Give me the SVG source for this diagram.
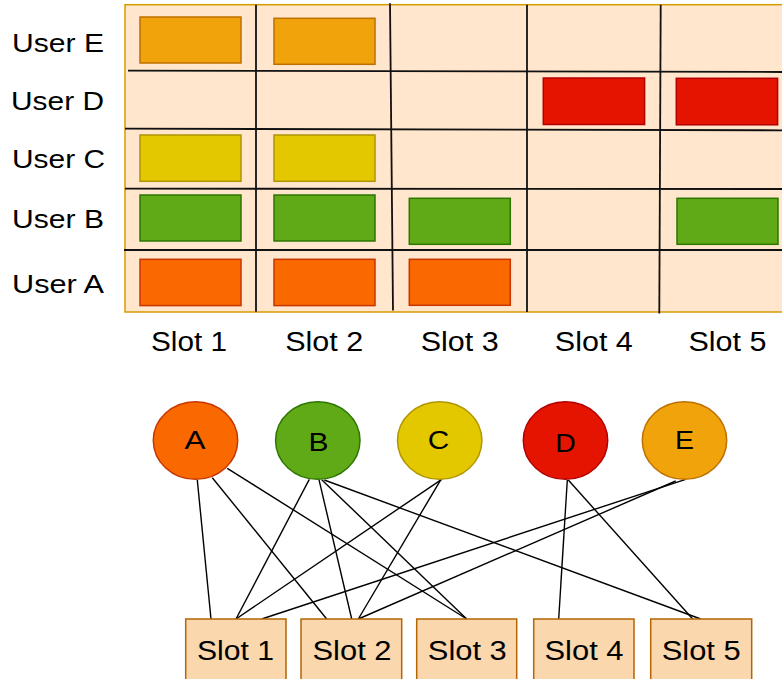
<svg xmlns="http://www.w3.org/2000/svg" width="782" height="679" viewBox="0 0 782 679">
<style>
text{font-family:"Liberation Sans",Arial,Helvetica,sans-serif;fill:#000}
.lbl{font-size:26px}
.sl{font-size:27px;text-anchor:middle}
.let{font-size:26px;text-anchor:middle}
.grid{stroke:#111;stroke-width:1.8;fill:none}
.cE{fill:#F0A30A;stroke:#BD7000;stroke-width:1.5}
.cD{fill:#E51400;stroke:#B20000;stroke-width:1.5}
.cC{fill:#E3C800;stroke:#B09500;stroke-width:1.5}
.cB{fill:#60A917;stroke:#2D7600;stroke-width:1.5}
.cA{fill:#FA6800;stroke:#C73500;stroke-width:1.5}
.box{fill:#FAD7AC;stroke:#B46504;stroke-width:1.5}
.edge{stroke:#000;stroke-width:1.4;fill:none}
</style>
<g id="schedule-grid">
<rect x="125" y="4.7" width="700" height="307.3" fill="#FFE6CC" stroke="#D79B00" stroke-width="1.5"/>
<rect class="cE" x="140" y="17" width="101" height="46"/>
<rect class="cE" x="274" y="18.3" width="101" height="46"/>
<rect class="cD" x="543.3" y="78" width="101.3" height="46.5"/>
<rect class="cD" x="676.3" y="78.3" width="101.3" height="46.5"/>
<rect class="cC" x="140" y="135" width="101" height="46.3"/>
<rect class="cC" x="274" y="135" width="101" height="46.3"/>
<rect class="cB" x="140" y="195" width="101" height="46"/>
<rect class="cB" x="274" y="195" width="101" height="46"/>
<rect class="cB" x="409.3" y="198.3" width="101" height="46"/>
<rect class="cB" x="677" y="198.3" width="101" height="46"/>
<rect class="cA" x="140" y="259.3" width="101" height="46.3"/>
<rect class="cA" x="274" y="259.3" width="101" height="46.3"/>
<rect class="cA" x="409.3" y="259.3" width="101" height="46"/>
<line class="grid" x1="128" y1="70.7" x2="782" y2="72"/>
<line class="grid" x1="125" y1="128.7" x2="782" y2="130.3"/>
<line class="grid" x1="125" y1="188.7" x2="782" y2="189"/>
<line class="grid" x1="124" y1="250" x2="782" y2="250"/>
<line class="grid" x1="256" y1="4.7" x2="256" y2="311.7"/>
<line class="grid" x1="390" y1="3.3" x2="393" y2="310.5"/>
<line class="grid" x1="527" y1="4.7" x2="527" y2="312"/>
<line class="grid" x1="660.7" y1="4.7" x2="659.3" y2="313.5"/>
</g>
<g id="row-labels">
<text class="lbl" x="104" y="51.7" text-anchor="end" textLength="92" lengthAdjust="spacingAndGlyphs">User E</text>
<text class="lbl" x="104" y="110" text-anchor="end" textLength="93" lengthAdjust="spacingAndGlyphs">User D</text>
<text class="lbl" x="105" y="167.7" text-anchor="end" textLength="93" lengthAdjust="spacingAndGlyphs">User C</text>
<text class="lbl" x="104" y="227.7" text-anchor="end" textLength="92" lengthAdjust="spacingAndGlyphs">User B</text>
<text class="lbl" x="104" y="293.3" text-anchor="end" textLength="92" lengthAdjust="spacingAndGlyphs">User A</text>
</g>
<g id="column-labels">
<text class="sl" x="189" y="350.7" textLength="76" lengthAdjust="spacingAndGlyphs">Slot 1</text>
<text class="sl" x="324.2" y="350.7" textLength="78" lengthAdjust="spacingAndGlyphs">Slot 2</text>
<text class="sl" x="459.7" y="350.7" textLength="78" lengthAdjust="spacingAndGlyphs">Slot 3</text>
<text class="sl" x="593.8" y="350.7" textLength="78" lengthAdjust="spacingAndGlyphs">Slot 4</text>
<text class="sl" x="727.5" y="350.7" textLength="78" lengthAdjust="spacingAndGlyphs">Slot 5</text>
</g>
<g id="connectors">
<line class="edge" x1="197.3" y1="480" x2="211" y2="619"/>
<line class="edge" x1="212.3" y1="477.7" x2="326.7" y2="619"/>
<line class="edge" x1="227.3" y1="468.3" x2="466.7" y2="619"/>
<line class="edge" x1="309.3" y1="479.3" x2="236" y2="619"/>
<line class="edge" x1="319" y1="479.7" x2="351.7" y2="619"/>
<line class="edge" x1="321.7" y1="479.7" x2="466.7" y2="619"/>
<line class="edge" x1="324.3" y1="480" x2="700.7" y2="619"/>
<line class="edge" x1="441.7" y1="479.3" x2="236" y2="619"/>
<line class="edge" x1="441" y1="479.3" x2="358.3" y2="619"/>
<line class="edge" x1="567.3" y1="480" x2="558.7" y2="619"/>
<line class="edge" x1="568.3" y1="480" x2="692.7" y2="619"/>
<line class="edge" x1="685.7" y1="479.3" x2="261.7" y2="619"/>
<line class="edge" x1="675.7" y1="481" x2="358.3" y2="619"/>
</g>
<g id="user-A"><ellipse class="cA" cx="195.5" cy="440.5" rx="42.2" ry="38.8"/><text class="let" x="195" y="449" textLength="21" lengthAdjust="spacingAndGlyphs">A</text></g>
<g id="user-B"><ellipse class="cB" cx="317.8" cy="440.5" rx="42.2" ry="38.8"/><text class="let" x="318.5" y="451" textLength="20" lengthAdjust="spacingAndGlyphs">B</text></g>
<g id="user-C"><ellipse class="cC" cx="439.7" cy="440.5" rx="42.2" ry="38.8"/><text class="let" x="438.5" y="449" textLength="21.5" lengthAdjust="spacingAndGlyphs">C</text></g>
<g id="user-D"><ellipse class="cD" cx="565.5" cy="440.5" rx="42.2" ry="38.8"/><text class="let" x="565.5" y="451.5" textLength="20.5" lengthAdjust="spacingAndGlyphs">D</text></g>
<g id="user-E"><ellipse class="cE" cx="684.5" cy="440.5" rx="42.2" ry="38.8"/><text class="let" x="684.5" y="449" textLength="19" lengthAdjust="spacingAndGlyphs">E</text></g>
<g id="slot-1"><rect class="box" x="185.7" y="619" width="100.3" height="80"/><text class="sl" x="235.5" y="660" textLength="77" lengthAdjust="spacingAndGlyphs">Slot 1</text></g>
<g id="slot-2"><rect class="box" x="301" y="619" width="100.7" height="80"/><text class="sl" x="352" y="660" textLength="79" lengthAdjust="spacingAndGlyphs">Slot 2</text></g>
<g id="slot-3"><rect class="box" x="416.7" y="619" width="100" height="80"/><text class="sl" x="467.3" y="660" textLength="79" lengthAdjust="spacingAndGlyphs">Slot 3</text></g>
<g id="slot-4"><rect class="box" x="533.7" y="619" width="100.3" height="80"/><text class="sl" x="584" y="660" textLength="79" lengthAdjust="spacingAndGlyphs">Slot 4</text></g>
<g id="slot-5"><rect class="box" x="650.7" y="619" width="101" height="80"/><text class="sl" x="701.2" y="660" textLength="79" lengthAdjust="spacingAndGlyphs">Slot 5</text></g>
</svg>
